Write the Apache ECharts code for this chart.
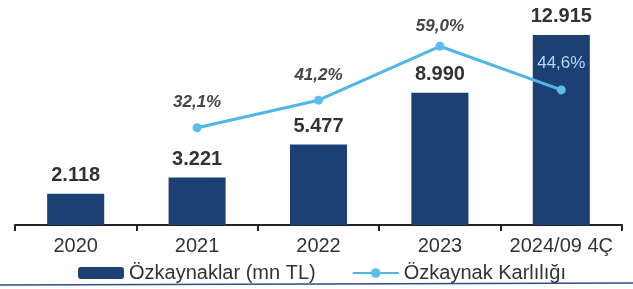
<!DOCTYPE html>
<html>
<head>
<meta charset="utf-8">
<script src="https://cdn.jsdelivr.net/npm/echarts@6/dist/echarts.min.js"></script>
<style>
html,body{margin:0;padding:0;background:#fff;}
#chart{width:633px;height:289px;}
</style>
</head>
<body>
<div id="chart"></div>
<script>
/* Özkaynaklar ve karlılık */
var categories = ['2020', '2021', '2022', '2023', '2024/09 4Ç'];
var equityValues = [2118, 3221, 5477, 8990, 12915];
var equityLabels = ['2.118', '3.221', '5.477', '8.990', '12.915'];
var roeValues = [null, 32.1, 41.2, 59.0, 44.6];
var roeLabels = ['', '32,1%', '41,2%', '59,0%', '44,6%'];

var font = '"Liberation Sans", Arial, sans-serif';

function roeData(){
    var out = [];
    for (var i = 0; i < roeValues.length; i++) {
        var item = { value: roeValues[i] };
        if (i === 3) {
            item.label = { distance: 7 };
        }
        if (i === 4) {
            item.label = { distance: 14, color: '#a9dbf5', fontStyle: 'normal', fontWeight: 'normal' };
        }
        out.push(item);
    }
    return out;
}

var option = {
    animation: false,
    textStyle: { fontFamily: font },
    grid: {
        left: 15,
        right: 11,
        top: 19,
        bottom: 64
    },
    legend: {
        left: 73,
        top: 258,
        itemWidth: 46,
        itemHeight: 12,
        itemGap: 36,
        textStyle: { fontSize: 20, color: '#333', fontFamily: font },
        data: ['Özkaynaklar (mn TL)', 'Özkaynak Karlılığı']
    },
    xAxis: [
        {
            type: 'category',
            data: categories,
            axisLine: { lineStyle: { color: '#222', width: 2 } },
            axisTick: { show: true, length: 6, lineStyle: { color: '#222', width: 2 } },
            axisLabel: { interval: 0, fontSize: 20, color: '#333', margin: 11, fontFamily: font }
        }
    ],
    yAxis: [
        { type: 'value', min: 0, max: 14000, show: false, splitLine: { show: false } },
        { type: 'value', min: 0, max: 68, show: false, splitLine: { show: false } }
    ],
    series: [
        {
            name: 'Özkaynaklar (mn TL)',
            type: 'bar',
            barWidth: '47%',
            itemStyle: { color: '#1d4074' },
            data: equityValues,
            label: {
                show: true,
                position: 'top',
                distance: 8,
                fontSize: 20,
                fontWeight: 'bold',
                color: '#333',
                fontFamily: font,
                formatter: function(p){ return equityLabels[p.dataIndex]; }
            }
        },
        {
            name: 'Özkaynak Karlılığı',
            type: 'line',
            yAxisIndex: 1,
            data: roeData(),
            symbol: 'circle',
            symbolSize: 9,
            lineStyle: { color: '#4fb6ea', width: 3 },
            itemStyle: { color: '#5cbcec' },
            label: {
                show: true,
                position: 'top',
                distance: 12,
                fontSize: 17,
                fontWeight: 'bold',
                fontStyle: 'italic',
                color: '#444',
                fontFamily: font,
                formatter: function(p){ return roeLabels[p.dataIndex]; }
            }
        }
    ],
    graphic: [
        {
            type: 'line',
            shape: { x1: 0, y1: 285, x2: 633, y2: 283 },
            style: { stroke: '#2b4f86', lineWidth: 1.5 }
        }
    ]
};

echarts.init(document.getElementById('chart')).setOption(option);
</script>
</body>
</html>
